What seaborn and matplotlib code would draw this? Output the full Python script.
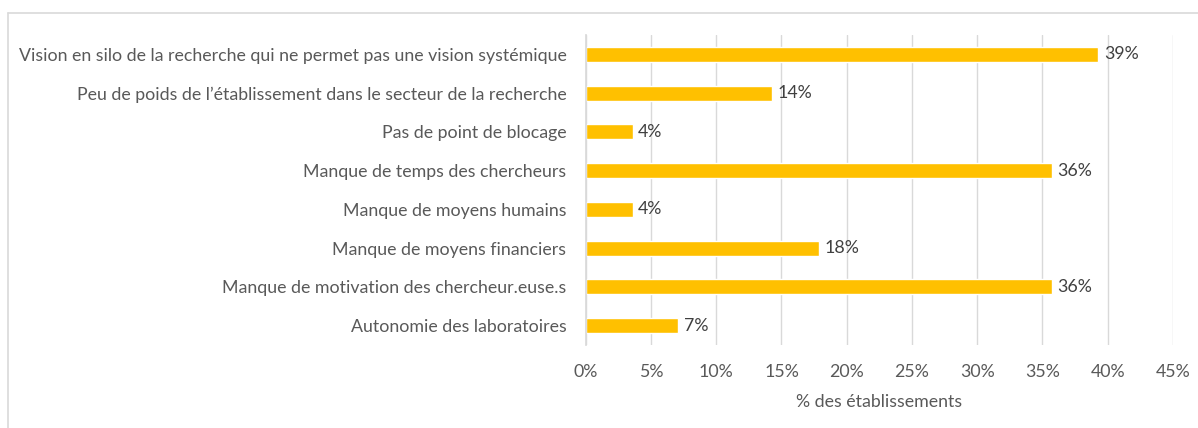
import pandas as pd
import matplotlib.pyplot as plt
import seaborn as sns
from matplotlib.lines import Line2D

# data (n = 28 établissements)
categories = [
    "Vision en silo de la recherche qui ne permet pas une vision systémique",
    "Peu de poids de l\u2019établissement dans le secteur de la recherche",
    "Pas de point de blocage",
    "Manque de temps des chercheurs",
    "Manque de moyens humains",
    "Manque de moyens financiers",
    "Manque de motivation des chercheur.euse.s",
    "Autonomie des laboratoires",
]
values = [39.3, 14.3, 3.6, 35.7, 3.6, 17.9, 35.7, 7.1]
value_labels = ["39%", "14%", "4%", "36%", "4%", "18%", "36%", "7%"]
xticks = [0, 5, 10, 15, 20, 25, 30, 35, 40, 45]

df = pd.DataFrame({"cat": categories, "val": values})

sns.set_theme(style="white")
plt.rcParams["font.family"] = ["Lato", "DejaVu Sans"]

fig = plt.figure(figsize=(11.98, 4.28), dpi=100)
ax = fig.add_axes([0.489, 0.194, 0.49, 0.724])

sns.barplot(data=df, y="cat", x="val", color="#FFC000", saturation=1,
            width=0.39, ax=ax, orient="h")

fs = 12.8
ax.set_xlim(0, 45)
ax.set_ylim(7.5, -0.5)
ax.set_xticks(xticks)
ax.set_xticklabels([f"{t}%" for t in xticks], fontsize=fs, color="#595959")
ax.tick_params(axis="x", length=0, pad=14)
ax.tick_params(axis="y", length=0, pad=14, labelsize=fs, labelcolor="#595959")
ax.grid(axis="x", color="#d9d9d9", linewidth=1)
ax.set_axisbelow(True)
for s in ["top", "right", "bottom"]:
    ax.spines[s].set_visible(False)
ax.spines["left"].set_color("#d9d9d9")
ax.set_ylabel("")
ax.set_xlabel("% des établissements", fontsize=fs, color="#595959", labelpad=10)

for i, (v, lab) in enumerate(zip(values, value_labels)):
    ax.text(v + 0.4, i, lab, va="center", ha="left", fontsize=fs, color="#404040")

# outer frame
fig.add_artist(Line2D([8 / 1198, 8 / 1198], [0, 1 - 13 / 428], color="#d9d9d9",
                      linewidth=1.2, transform=fig.transFigure))
fig.add_artist(Line2D([8 / 1198, 1], [1 - 13 / 428, 1 - 13 / 428], color="#d9d9d9",
                      linewidth=1.2, transform=fig.transFigure))

fig.savefig("out.png", dpi=100)
